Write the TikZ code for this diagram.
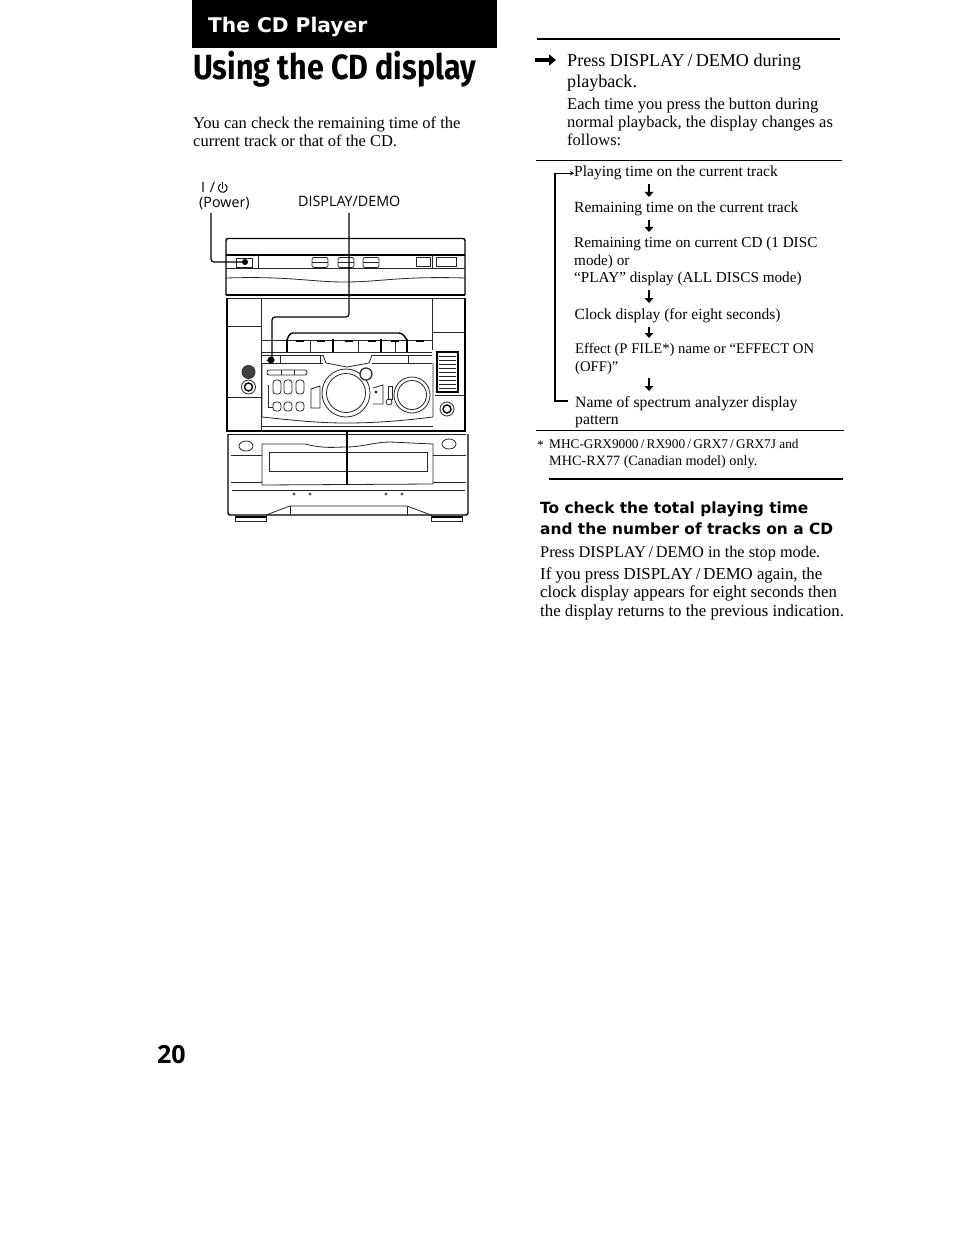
\documentclass[tikz,border=0pt]{standalone}
\usepackage{fontspec}
\setmainfont{Liberation Serif}
\newfontfamily\labelfont{Open Sans}
\newfontfamily\widefont{DejaVu Sans}
\newfontfamily\headfont{Fira Sans}
\usetikzlibrary{arrows.meta}
\tikzset{
  body/.style={inner sep=0pt,anchor=north west,align=left,font=\fontsize{16.5}{18.3}\selectfont},
  step item/.style={inner sep=0pt,anchor=north west,align=left,font=\fontsize{15.5}{17.6}\selectfont},
  note/.style={inner sep=0pt,anchor=north west,align=left,font=\fontsize{13.3}{17}\selectfont},
  unitlabel/.style={anchor=base west,inner sep=0pt,font=\labelfont\fontsize{14.3}{16}\selectfont},
  panel/.style={line width=0.8pt,black!85},
  heavy/.style={line width=1.4pt,black},
  lead/.style={line width=1.2pt,black,rounded corners=3pt},
  flowtip/.style={line width=1.8pt,-{Triangle[length=5pt,width=8.5pt]},shorten <=4pt,shorten >=5pt}
}
\begin{document}
\begin{tikzpicture}[x=1pt,y=-1pt]
  \useasboundingbox (0,0) rectangle (954,1233);
  % title block
  \fill[black] (192,0) rectangle (497,48);
  \node[anchor=base west,inner sep=0pt,text=white,font=\widefont\bfseries\fontsize{20.2}{24}\selectfont] (section) at (208,33) {The CD Player};
  \node[anchor=base west,inner sep=0pt,font=\headfont\bfseries\fontsize{35}{36}\selectfont] (title) at (193,80) {\scalebox{0.87}[1]{Using the CD display}};
  \node[body] (intro) at (193,116.5) {You can check the remaining time of the\\current track or that of the CD.};
  % labels over the unit
  \node[unitlabel] (power) at (199,207.5) {(Power)};
  \node[unitlabel] (demo) at (298,207) {DISPLAY/DEMO};
  \node[unitlabel] (slash) at (201,192.5) {I\,\,/};
  \draw[line width=1pt] (222.7,182) -- (222.7,189);
  \draw[line width=1pt] (225,184.2) arc (-60:240:4.4);
  % outer case of the unit
  \draw[heavy,rounded corners=2pt] (226,295) -- (226,238.5) -- (465,238.5) -- (465,295);
  \draw[heavy] (226,255) -- (465,255);
  \draw[panel] (226,268) -- (465,268);
  \draw[panel] (226,278) .. controls (290,276) and (310,282) .. (345,282) .. controls (380,282) and (400,276) .. (465,278);
  \draw[heavy] (226,295) -- (465,295);
  \draw[panel] (226,298) -- (465,298);
  % top row of buttons
  \draw[panel] (258,255) -- (258,269);
  \draw[panel] (236,258) rectangle (252,267);
  \foreach \bx in {312,338,363}{
    \draw[panel,rounded corners=2pt] (\bx,257.5) rectangle ++(16,10);
    \draw[panel] (\bx,262.5) -- ++(16,0);
  }
  \draw[panel] (416,257) rectangle (430,266);
  \draw[panel] (436,257) rectangle (456,266);
  \draw[panel] (432,255) -- (432,268);
  % middle part
  \draw[heavy] (227,298) -- (227,431);
  \draw[heavy] (465,298) -- (465,431);
  \draw[panel] (261,298) -- (261,430);
  \draw[panel] (432,298) -- (432,350);
  \draw[panel] (227,326) -- (261,326);
  \draw[panel] (432,332) -- (465,332);
  \draw[panel] (227,397) -- (262,397);
  \draw[panel] (435,395) -- (465,395);
  \draw[panel] (261,340) -- (432,340);
  \draw[heavy,rounded corners=3pt] (287,340) -- (290,333) -- (402,333) -- (407,340);
  \foreach \bx in {287,333,381,407}{
    \draw[heavy] (\bx,339) -- (\bx,352);
  }
  \foreach \bx in {310,358,395}{
    \draw[panel] (\bx,340) -- (\bx,352);
  }
  \foreach \bx in {296,317,345,368,391,416}{
    \draw[heavy] (\bx,341) -- ++(8,0);
  }
  \draw[panel] (261,352) -- (432,352);
  \draw[panel] (261,355) -- (323,355);
  \draw[panel] (372,355) -- (432,355);
  \draw[panel] (261,363) -- (323,363);
  \draw[panel] (372,363) -- (432,363);
  \draw[panel] (323,355) -- (326,363) -- (347,367) -- (369,363) -- (372,355);
  \draw[panel] (280,355) -- (280,363);
  \draw[panel] (320,355) -- (320,363);
  \draw[panel] (408,355) -- (408,363);
  % panel with the dials
  \draw[panel] (262,363) -- (262,417) .. controls (300,421) and (320,423) .. (346,423) .. controls (375,423) and (400,421) .. (433,417) -- (433,363);
  \draw[panel] (261,426) -- (433,426);
  \draw[panel,rounded corners=2pt] (267,370) rectangle (307,375);
  \draw[panel] (281,370) -- (281,375);
  \draw[panel] (294,370) -- (294,375);
  \foreach \bx in {277,288,300}{
    \draw[panel,fill=white,rounded corners=3pt] (\bx-4,380) rectangle (\bx+4,394);
    \draw[panel,fill=white,rounded corners=3pt] (\bx-4,402) rectangle (\bx+4,411);
  }
  \draw[panel] (268,385) -- (268,407) -- (273,407);
  \draw[panel] (311,389) -- (320,386) -- (320,408) -- (311,408) -- cycle;
  \draw[panel,fill=white] (346,393) circle (24);
  \draw[panel,fill=white] (346,393) circle (19.5);
  \draw[panel,line width=1.2pt,fill=white] (366,374) circle (6);
  \draw[panel] (373,388) -- (383,385) -- (383,404) -- (373,404);
  \draw[panel] (388,386) rectangle (392,399);
  \draw[panel] (389,402) circle (3);
  \draw[panel] (376,392) circle (1);
  \draw[panel,fill=white] (412,395) circle (18);
  \draw[panel,fill=white] (412,395) circle (14.5);
  % left knobs
  \draw[panel,fill=black!75] (248.5,372) circle (6.5);
  \draw[panel,fill=white] (248.5,387) circle (7);
  \draw[heavy,fill=white] (248.5,387) circle (4);
  \draw[panel,fill=white] (447,409) circle (7);
  \draw[heavy,fill=white] (447,409) circle (4);
  % level grille
  \draw[heavy] (437,352) rectangle (458,392);
  \foreach \gy in {356,360,...,388}{
    \draw[panel] (439,\gy) -- (456,\gy);
  }
  % lower part
  \draw[heavy] (226,431) -- (466,431);
  \draw[panel] (228,434) -- (466,434);
  \draw[heavy,rounded corners=2pt] (228,434) -- (228,515) -- (468,515) -- (468,434);
  \draw[panel] (246,446) ellipse (7 and 5);
  \draw[panel] (449,444) ellipse (7 and 5);
  \draw[panel] (262,485) -- (262,444) -- (305,444) .. controls (325,449) and (335,447) .. (347,447) .. controls (362,447) and (375,442) .. (390,442) -- (433,444) -- (433,484);
  \draw[panel] (262,485) -- (433,484);
  \draw[panel] (269,452) rectangle (427,471);
  \draw[panel] (231,455) -- (262,455);
  \draw[panel] (433,455) -- (466,455);
  \draw[panel] (231,482) -- (262,482);
  \draw[panel] (433,482) -- (466,482);
  \draw[panel] (232,490) -- (465,490);
  \foreach \cx in {294,310,386,402}{
    \draw[panel,line width=0.5pt] (\cx,494) circle (1.3);
  }
  \draw[panel] (266,515) -- (290,506) -- (407,506) -- (431,515);
  \draw[panel] (290,506) -- (290,515);
  \draw[panel] (407,506) -- (407,515);
  \draw[heavy,line width=1.8pt] (235,517) -- (266,517);
  \draw[heavy,line width=1.8pt] (431,517) -- (462,517);
  \draw[panel] (235,515) -- (235,521) -- (266,521) -- (266,515);
  \draw[panel] (431,515) -- (431,521) -- (462,521) -- (462,515);
  \draw[heavy] (347,432) -- (347,485);
  % leaders to the buttons
  \coordinate (powertop) at (211,213);
  \coordinate (powerbtn) at (245,262);
  \coordinate (demotop) at (349,213);
  \coordinate (demobtn) at (271,360);
  \draw[lead] (powertop) |- (powerbtn);
  \fill (powerbtn) circle (3);
  \draw[lead] (demotop) -- (349,317) -- (272,317) -- (272,360) -- (demobtn);
  \fill (demobtn) circle (3.5);
  % right column
  \draw[line width=2pt] (537,39) -- (840,39);
  \coordinate (bigtail) at (535,60);
  \coordinate (bighead) at (556,60);
  \draw[line width=4.5pt,-{Triangle[length=7pt,width=11pt]}] (bigtail) -- (bighead);
  \node[inner sep=0pt,anchor=north west,align=left,font=\fontsize{18.1}{21.5}\selectfont] (press) at (567,53.5) {Press DISPLAY\,/\,DEMO during\\playback.};
  \node[body] (each) at (567,97.5) {Each time you press the button during\\normal playback, the display changes as\\follows:};
  \draw[line width=0.8pt] (536,160) -- (842,160);
  % display sequence
  \node[step item] (playing) at (574,166) {Playing time on the current track};
  \node[step item] (remain) at (574,202) {Remaining time on the current track};
  \node[step item,font=\fontsize{15.2}{17.6}\selectfont] (remaincd) at (574,237) {Remaining time on current CD (1 DISC\\mode) or\\``PLAY'' display (ALL DISCS mode)};
  \node[step item] (clock) at (574.5,308) {Clock display (for eight seconds)};
  \node[step item,font=\fontsize{14.7}{17.6}\selectfont] (effect) at (575,343) {Effect (P FILE*) name or ``EFFECT ON\\(OFF)''};
  \node[step item,font=\fontsize{15.7}{17.6}\selectfont] (spectrum) at (575,396) {Name of spectrum analyzer display\\pattern};
  \coordinate (flowx) at (649,0);
  \draw[flowtip] (playing.south -| flowx) -- (remain.north -| flowx);
  \draw[flowtip] (remain.south -| flowx) -- (remaincd.north -| flowx);
  \draw[flowtip] (remaincd.south -| flowx) -- (clock.north -| flowx);
  \draw[flowtip] (clock.south -| flowx) -- (effect.north -| flowx);
  \draw[flowtip] (effect.south -| flowx) -- (spectrum.north -| flowx);
  % return loop
  \coordinate (loopx) at (555,0);
  \coordinate (loopend) at (568,401);
  \draw[line width=1.2pt,-{Stealth[length=4pt,width=4.5pt]}] (loopend) -- (loopx |- loopend) -- (loopx |- playing.west) -- (playing.west);
  \draw[line width=0.7pt] (536,430) -- (844,430);
  \node[note] (star) at (537,441) {*};
  \node[note] (models) at (549,439) {MHC-GRX9000\,/\,RX900\,/\,GRX7\,/\,GRX7J and\\{\fontsize{14.2}{17}\selectfont MHC-RX77 (Canadian model) only.}};
  \draw[line width=1.6pt] (549,479) -- (843,479);
  \node[inner sep=0pt,anchor=north west,align=left,font=\widefont\bfseries\fontsize{15.4}{20.5}\selectfont] (check) at (540,502) {To check the total playing time\\and the number of tracks on a CD};
  \node[body,font=\fontsize{16.3}{18.3}\selectfont] (stop) at (540,545.5) {Press DISPLAY\,/\,DEMO in the stop mode.};
  \node[body,font=\fontsize{16.8}{18.3}\selectfont] (again) at (540,567.5) {If you press DISPLAY\,/\,DEMO again, the\\clock display appears for eight seconds then\\the display returns to the previous indication.};
  \node[anchor=base west,inner sep=0pt,font=\labelfont\bfseries\fontsize{25}{28}\selectfont] (page) at (157,1063) {20};
\end{tikzpicture}
\end{document}
